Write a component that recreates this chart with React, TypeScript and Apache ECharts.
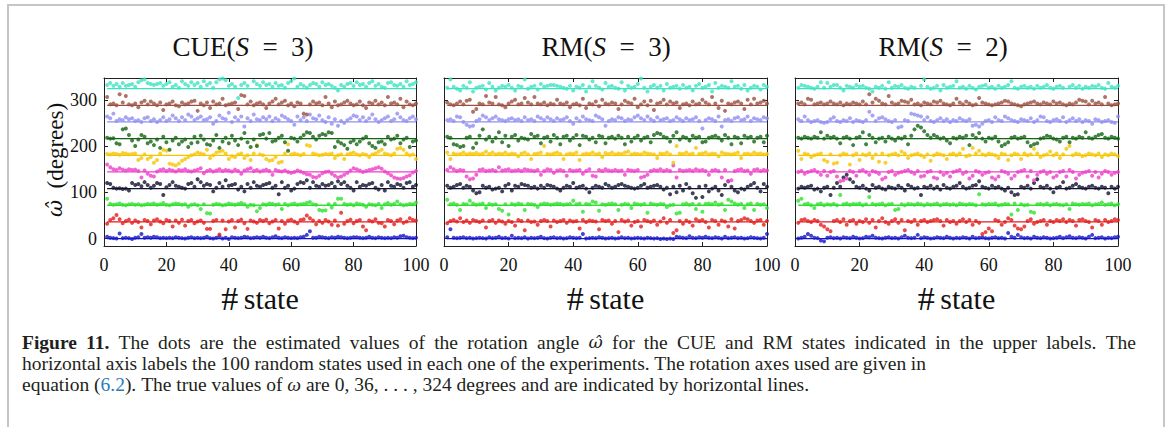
import React, { useEffect, useRef } from "react";
import * as echarts from "echarts";

// true rotation angles (degrees)
const TRUE_VALUES = [0, 36, 72, 108, 144, 180, 216, 252, 288, 324];
const Y_TICKS = [0, 100, 200, 300];
const PANEL_TITLES = ["CUE", "RM", "RM"];
const PANEL_S = [3, 3, 2];

// deviations (degrees) of the estimated angle from the true value, states 1..100
// Panel 1: CUE(S=3)
const CUE3_0 = [4,2,1,0,11,1,2,1,-1,2,3,10,2,3,2,4,3,1,2,1,2,1,3,2,1,0,2,3,1,2,1,2,4,1,0,2,5,0,2,-1,3,2,1,2,4,3,1,2,3,2,4,2,1,3,5,2,1,3,2,1,2,1,3,4,8,16,2,2,4,3,2,1,3,2,4,3,2,1,2,3,3,2,1,2,4,2,1,3,2,1,2,1,3,2,5,6,3,2,1,2];
const CUE3_36 = [-4,4,8,15,6,-3,2,5,-2,3,0,-12,4,2,-5,3,6,1,-3,4,2,-10,3,-2,5,-8,2,4,-3,1,3,-2,-15,-15,2,4,-27,3,-16,1,4,-12,2,5,-3,-15,3,1,-2,4,2,5,-3,1,4,-14,2,-4,3,5,1,-3,4,6,14,8,3,-5,2,-2,4,1,-6,3,-8,20,-4,2,5,-3,2,4,-10,-18,3,1,6,-2,-3,-10,4,2,-5,3,6,-2,1,8,4,3];
const CUE3_72 = [14,3,1,2,4,1,0,2,3,1,2,0,1,3,2,4,1,2,5,1,0,2,4,3,1,2,-3,1,2,0,-8,2,-17,-18,1,3,2,0,1,4,2,1,3,5,2,-3,1,0,-13,-6,2,1,4,3,1,2,-8,3,0,2,4,1,2,3,5,7,2,1,-10,-12,-11,2,-5,3,14,14,3,1,2,0,4,2,1,-3,2,1,0,3,-6,2,5,1,3,8,2,0,1,3,2,6];
const CUE3_108 = [12,10,2,0,1,-1,0,-4,12,8,10,5,14,8,2,6,12,10,-14,3,8,14,6,4,2,0,10,12,4,20,14,6,10,8,-6,2,12,4,18,6,8,10,-2,4,-6,10,2,14,6,4,8,10,12,2,6,-12,14,2,6,-4,0,10,14,12,18,2,14,6,4,10,6,8,12,4,16,10,14,6,2,-4,14,4,8,6,10,12,2,-2,8,-4,14,6,4,10,8,2,12,14,4,8];
const CUE3_144 = [16,10,6,4,8,5,3,6,4,5,2,-12,3,-4,-8,-10,1,4,6,2,5,3,1,4,3,6,2,1,3,5,8,-3,2,4,1,3,6,2,4,3,1,5,2,-4,3,6,8,2,4,1,3,5,2,-6,4,2,1,3,0,-2,0,3,1,-2,-5,-6,-11,-12,-8,-3,0,1,-4,-8,-12,-10,-6,-2,3,8,6,3,0,2,4,6,8,10,7,1,-3,-7,-12,-14,-15,-13,-10,-7,-1,2];
const CUE3_180 = [3,2,4,3,1,5,4,2,3,4,-10,-6,2,-8,-4,-16,-10,4,12,10,-18,-20,-22,-18,-12,-8,-4,0,2,6,4,2,12,-6,0,6,8,10,4,-8,-2,-4,2,4,-6,0,-10,4,22,2,0,-8,-12,-10,-4,-16,-14,4,24,2,4,2,0,3,22,20,4,2,0,1,3,2,4,-6,0,2,-8,2,4,6,2,0,3,1,-4,2,4,8,12,4,2,0,4,14,16,12,4,0,2,-8];
const CUE3_216 = [2,0,1,-10,-12,20,22,8,-4,-16,-2,8,4,-10,-6,-14,-2,-20,4,-8,-24,-4,2,-12,-6,-2,-18,-10,4,-8,6,-2,-12,-14,-4,8,-20,-6,2,-10,6,-4,-14,0,12,-8,-18,-2,-16,8,10,0,12,-6,-4,2,6,-8,-26,2,0,-6,2,8,14,12,4,-2,6,10,8,14,12,-18,-6,-10,-14,-22,-8,-4,-12,-6,0,4,-10,-16,-20,-8,-6,-12,4,-2,0,6,-10,-2,2,-18,-6,-4];
const CUE3_252 = [12,8,18,2,6,4,10,6,8,2,4,0,8,10,2,6,0,4,10,2,6,14,8,2,10,4,16,12,4,8,12,4,6,10,-4,2,14,8,6,20,0,10,4,12,-10,8,2,16,6,4,10,6,12,2,8,4,14,10,6,2,-6,12,4,10,2,16,8,6,14,4,0,10,-4,6,-8,2,-2,4,8,14,12,4,10,2,8,16,6,0,4,8,12,2,6,18,10,4,2,8,12,6];
const CUE3_288 = [18,2,4,0,24,6,20,2,0,4,-4,6,10,2,8,4,0,6,-10,2,4,8,0,-2,6,2,4,8,10,-12,4,0,6,-6,8,2,4,14,0,2,4,6,-8,22,20,2,8,0,4,6,2,-6,4,8,14,2,6,10,0,4,-2,6,4,-18,-20,2,8,4,6,0,18,4,-4,8,0,2,6,10,4,0,2,8,0,-6,6,4,10,2,6,0,18,4,6,2,14,-4,8,2,0,4];
const CUE3_324 = [8,12,6,10,4,12,6,8,10,4,14,18,20,12,10,8,10,12,6,10,14,4,8,2,16,10,6,14,8,12,4,16,8,12,2,14,20,22,18,6,10,4,-20,8,12,6,24,16,10,6,14,8,10,4,12,6,8,2,12,16,22,4,10,6,2,8,12,10,4,14,8,10,6,2,-4,8,4,10,12,6,14,8,10,4,12,16,6,10,4,2,12,14,8,6,10,4,16,8,10,14];

// Panel 2: RM(S=3)
const RM3_0 = [3,20,2,1,2,3,1,2,0,1,2,1,0,3,1,2,4,1,2,0,6,1,2,1,3,0,2,1,2,4,1,0,2,3,1,2,0,1,3,2,1,2,10,0,1,2,1,3,2,0,1,2,0,1,3,1,2,0,1,2,1,0,2,1,0,1,-1,0,-1,0,-1,4,3,2,1,5,2,1,3,2,4,2,1,3,2,0,4,1,2,3,1,2,0,1,3,2,1,0,2,10];
const RM3_36 = [-3,2,4,1,8,0,3,-2,4,2,0,3,-12,2,4,-2,3,1,-4,2,0,-8,4,2,-18,3,0,1,-6,2,4,2,-10,3,0,2,4,-2,3,1,2,-14,4,0,3,2,1,-16,4,2,3,-4,2,-22,4,1,3,-8,0,2,-10,4,2,0,3,-6,1,8,-2,4,-24,-18,2,-4,3,0,-8,6,2,4,0,-12,4,2,-6,3,1,-10,6,-14,2,4,8,6,2,-2,3,4,-6,2];
const RM3_72 = [12,2,4,1,-10,3,2,10,4,1,2,4,-6,3,1,2,-8,-12,2,-20,3,1,4,2,-10,3,2,1,-4,2,4,3,1,2,4,3,1,2,3,10,2,4,-14,3,2,8,6,-12,2,1,3,4,2,-10,1,3,2,-6,4,2,1,3,-16,4,2,1,3,2,-4,0,1,-18,-16,2,4,1,3,-8,2,-14,3,4,2,6,1,3,-10,12,8,4,1,3,-6,2,4,-10,3,1,2,-6];
const RM3_108 = [6,2,4,8,10,2,6,4,-4,-10,-8,6,2,4,-2,0,2,-6,6,10,-4,6,4,10,8,6,2,4,0,6,2,8,6,4,0,-4,2,6,4,12,2,4,6,0,-8,2,6,4,2,10,6,2,4,8,10,6,4,2,0,2,6,10,2,4,6,8,4,-2,2,-12,4,-8,6,-4,10,2,-10,-20,4,-18,6,-6,0,4,-4,-14,8,16,4,-4,-8,0,-2,4,8,12,2,-6,10,4];
const RM3_144 = [4,10,6,2,4,3,-10,-16,-14,-6,4,6,2,3,4,2,10,3,4,6,2,3,4,2,6,4,3,2,4,-6,2,6,4,-2,3,4,2,-8,4,2,3,4,-4,2,6,-8,-10,4,2,6,3,2,4,2,3,-6,4,3,2,4,-12,-10,-6,2,4,3,6,2,4,2,14,-12,4,2,3,4,2,6,3,4,2,-6,3,4,2,-12,4,-20,-18,2,4,6,2,3,-4,4,6,2,4,3];
const RM3_180 = [6,-8,4,2,3,6,2,4,3,5,2,4,8,3,6,2,4,3,6,2,4,3,-2,4,6,2,-8,3,4,6,20,3,2,4,6,3,-8,2,4,3,6,-10,2,4,3,6,2,4,-4,5,3,6,2,4,3,6,8,2,4,3,2,6,4,3,2,-6,4,3,6,2,-16,20,4,3,6,2,4,16,3,4,6,2,4,3,-2,6,4,3,2,4,6,-6,3,4,2,6,3,4,2,3];
const RM3_216 = [4,2,-12,-14,-18,-16,2,4,-20,-10,6,20,-2,4,-6,2,14,-8,6,-16,4,8,-4,2,0,-2,10,4,6,-10,2,4,-6,8,2,-12,4,6,-4,2,8,-14,6,4,-2,2,-8,6,4,-10,2,4,0,6,2,-12,4,-6,2,6,-4,2,4,-8,8,12,10,4,2,-6,6,14,-2,4,2,-4,6,2,4,-8,-6,2,4,6,2,-4,8,2,-12,4,2,-10,6,2,4,-6,2,4,-8,6];
const RM3_252 = [4,6,2,12,10,0,-6,-10,-8,2,6,14,10,4,8,12,6,4,2,6,8,4,6,2,10,4,6,2,12,8,4,10,6,2,8,4,6,10,2,-4,8,2,12,6,4,2,14,10,6,-8,2,6,4,10,8,2,6,4,10,14,8,4,12,6,2,10,4,6,8,2,4,10,6,2,8,4,6,10,2,-14,4,8,6,2,12,-10,4,6,2,8,10,4,6,12,2,8,6,4,10,8];
const RM3_288 = [6,2,0,4,8,2,10,12,-14,-8,4,2,20,6,4,18,2,0,-4,4,8,12,2,4,16,6,2,18,4,2,6,0,4,2,12,4,2,6,-4,2,4,0,14,-6,4,2,8,-2,12,4,2,6,4,-8,2,10,6,4,14,-4,2,8,0,10,-10,4,6,12,2,8,4,6,-6,2,4,0,8,2,4,12,6,2,18,4,-6,10,-12,4,2,6,8,4,-8,12,2,14,4,6,10,4];
const RM3_324 = [2,20,4,0,-4,6,2,14,-6,2,4,6,-2,12,4,-4,2,6,4,8,2,-4,6,4,20,0,4,6,-2,10,4,6,8,8,6,4,2,0,6,-4,4,2,8,-6,4,16,6,2,-2,12,4,6,2,0,14,-4,6,2,4,10,22,2,-6,4,8,2,6,-4,10,2,4,6,0,8,2,4,-4,6,10,2,4,8,-6,12,2,6,4,2,16,4,6,0,8,-4,2,6,4,-2,8,4];

// Panel 3: RM(S=2)
const RM2_0 = [0,2,4,10,6,2,1,-4,-6,2,3,1,2,0,3,2,1,4,2,0,1,4,3,6,2,1,0,2,3,1,2,0,3,6,2,1,2,8,1,3,2,0,1,3,2,1,4,2,0,2,1,3,2,0,4,1,2,3,1,0,2,3,1,2,0,12,4,2,8,3,1,2,0,4,2,1,3,2,0,1,2,4,1,3,5,2,1,3,2,0,4,8,1,2,3,0,2,1,3,4];
const RM2_36 = [-2,4,6,2,0,4,2,-6,-10,-16,-20,2,4,0,6,-6,2,4,-4,2,0,6,-2,4,-12,2,8,0,-4,2,6,-2,4,-18,2,0,4,-6,2,4,0,2,4,6,2,-8,4,0,2,-4,2,6,0,4,-6,2,-2,-26,-22,-14,-20,4,2,-6,0,8,4,-8,-14,-16,-10,2,6,-4,0,2,4,-6,2,0,4,2,6,0,4,2,-8,4,6,2,0,-12,4,2,-6,4,0,2,6,4];
const RM2_72 = [10,14,2,4,0,-6,2,4,0,2,1,3,0,22,2,4,1,3,2,4,0,2,18,3,1,2,4,0,2,3,-10,-8,2,0,3,2,1,4,2,0,3,1,2,4,0,2,3,1,2,0,4,2,1,3,2,0,24,2,1,3,2,4,0,1,3,2,-20,4,-10,2,0,1,-14,-16,2,3,1,4,0,2,3,1,0,2,-8,4,2,1,3,2,4,0,2,3,6,1,2,4,0,2];
const RM2_108 = [0,4,2,4,6,-2,0,-6,2,4,-14,2,12,4,24,30,20,14,4,2,6,0,-4,8,2,4,0,-2,4,2,0,6,2,-4,8,4,0,2,-14,4,2,6,0,4,-2,8,2,0,4,6,12,4,0,2,6,8,16,4,2,0,6,2,4,0,-4,2,-8,-14,-12,4,2,6,0,12,20,4,2,6,0,-8,2,4,14,0,2,6,10,4,2,0,4,6,2,0,4,2,-10,4,0,4];
const RM2_144 = [0,2,-4,0,2,4,0,-6,2,-8,0,2,-10,-20,-18,-14,2,0,-8,2,4,0,-6,2,0,-4,-16,-12,0,2,-6,-2,0,2,4,0,-4,2,-10,-8,0,2,-12,-14,0,-6,-2,-10,0,2,4,-4,0,-14,-8,2,0,-6,-2,0,-12,-16,-10,2,0,-4,-14,-8,0,2,4,-10,2,-18,-6,0,2,-4,0,-12,-8,0,2,-10,4,0,-14,-6,-2,0,2,-8,0,-12,-4,2,0,-6,-2,0];
const RM2_180 = [10,-8,4,2,-4,0,2,4,-10,-14,2,-18,-16,0,4,2,-20,0,4,-10,2,0,4,-6,2,-14,4,-16,0,2,4,0,8,4,-6,0,2,4,0,-4,2,-12,0,4,2,0,-8,2,4,0,4,14,-2,0,16,4,10,2,0,4,2,0,-6,4,2,-10,0,4,2,-8,4,0,2,14,4,-4,0,2,8,0,4,-6,2,14,20,0,4,2,-2,0,4,2,0,4,-4,2,0,4,2,-2];
const RM2_216 = [2,0,4,2,0,4,2,14,0,6,2,4,0,-10,2,4,0,-14,2,4,14,-12,8,2,-8,0,2,-6,4,0,-4,2,0,4,-12,6,20,28,24,16,8,2,8,4,0,2,-4,-10,2,0,4,2,6,-14,8,2,12,0,-6,2,0,4,-6,-16,-12,-8,2,4,0,2,4,-8,-16,-12,-10,0,2,6,4,0,-2,-6,2,4,-8,2,0,4,2,14,2,0,4,8,10,2,0,4,2,0];
const RM2_252 = [6,2,12,4,0,2,4,0,-2,0,6,10,2,0,4,2,8,0,4,2,0,4,22,14,2,8,10,6,2,0,4,-12,-10,4,2,18,16,14,12,4,10,2,0,4,8,2,6,0,4,2,8,4,2,6,-8,-6,-10,-4,2,4,0,10,4,2,12,8,4,2,0,6,4,2,8,0,4,12,10,2,0,4,6,2,10,0,4,8,2,6,0,4,2,-4,6,4,0,2,4,0,-2,12];
const RM2_288 = [4,6,2,14,12,2,4,6,2,4,8,4,2,6,0,4,2,6,4,2,8,2,24,6,14,10,4,2,20,6,2,4,10,8,6,12,2,4,0,6,4,2,8,6,10,4,2,0,4,14,6,2,8,4,0,2,16,6,4,2,0,2,4,6,10,8,4,2,0,-2,2,4,6,8,4,2,6,4,2,8,4,6,2,0,4,2,6,12,10,8,2,10,4,6,2,18,4,0,2,4];
const RM2_324 = [2,8,6,4,2,0,4,14,2,12,4,8,8,2,-4,6,4,2,8,4,6,2,0,-6,4,2,6,0,14,2,6,4,8,2,0,4,2,30,6,20,4,0,2,6,-4,8,2,4,6,16,2,4,0,6,2,-2,4,6,8,2,4,0,6,2,4,8,16,2,0,4,6,2,4,0,6,2,4,8,2,0,4,6,2,30,4,8,2,6,0,4,2,6,4,8,2,0,12,4,2,6];

const PANELS = [
  [CUE3_0, CUE3_36, CUE3_72, CUE3_108, CUE3_144, CUE3_180, CUE3_216, CUE3_252, CUE3_288, CUE3_324],
  [RM3_0, RM3_36, RM3_72, RM3_108, RM3_144, RM3_180, RM3_216, RM3_252, RM3_288, RM3_324],
  [RM2_0, RM2_36, RM2_72, RM2_108, RM2_144, RM2_180, RM2_216, RM2_252, RM2_288, RM2_324],
];

const COLORS = ["#1414c8", "#e41c1c", "#30e030", "#121230", "#ee3ec8", "#f5c400", "#136313", "#8f8ff0", "#9a4f40", "#3ce3c0"];

const CAPTION = [
  "{b|Figure} {b|11.} The dots are the estimated values of the rotation angle {w|ω̂} for the CUE and RM states indicated in the upper labels. The",
  "horizontal axis labels the 100 random states used in each one of the experiments. The rotation axes used are given in",
  "equation ({l|6.2}). The true values of {i|ω} are 0, 36, . . . , 324 degrees and are indicated by horizontal lines.",
];
// right edge for justified lines (null = natural spacing)
const CAPTION_RIGHT: (number | null)[] = [1136, 926, null];

const GRIDS = [
  { left: 104, width: 312, titleX: 243 },
  { left: 444, width: 323, titleX: 606 },
  { left: 795, width: 323, titleX: 943 },
];
const Y_MIN = -16;
const Y_MAX = 347;
const FONT = "Liberation Serif";
const CAP_SIZE = 19.5;

function capFont(s: string) {
  const fam = s === "w" ? "DejaVu Serif" : FONT;
  const weight = s === "b" ? "bold" : "normal";
  const style = s === "i" || s === "w" ? "italic" : "normal";
  const size = s === "w" ? CAP_SIZE - 2 : CAP_SIZE;
  return { fam, weight, style, size };
}

function parseWord(w: string) {
  const parts = w.split(/(\{\w\|[^}]*\})/).filter((p) => p.length > 0);
  return parts.map((p) => {
    const m = p.match(/^\{(\w)\|([^}]*)\}$/);
    return m ? { s: m[1], t: m[2] } : { s: "n", t: p };
  });
}

export default function App() {
  const ref = useRef<HTMLDivElement>(null);
  useEffect(() => {
    if (!ref.current) return;
    const chart = echarts.init(ref.current, null, { renderer: "svg" });
    const grid: any[] = [];
    const xAxis: any[] = [];
    const yAxis: any[] = [];
    const series: any[] = [];
    const graphic: any[] = [];

    graphic.push({
      type: "rect",
      z: -10,
      shape: { x: 8, y: 5, width: 1156, height: 440 },
      style: { fill: "#fff", stroke: "#c6c6c6", lineWidth: 2 },
    });

    GRIDS.forEach((g, p) => {
      grid.push({ left: g.left, width: g.width, top: 78, height: 168 });
      const axisLine = { show: true, onZero: false, lineStyle: { color: "#222", width: 1 } };
      xAxis.push({
        type: "value", gridIndex: p, position: "bottom", min: 0, max: 100, interval: 20,
        axisLine, splitLine: { show: false },
        axisTick: { inside: true, length: 4, lineStyle: { color: "#222" } },
        axisLabel: { fontFamily: FONT, fontSize: 18, color: "#111", margin: 10 },
        name: "{h|#}{g| }{s|state}", nameLocation: "middle", nameGap: 35,
        nameTextStyle: {
          rich: {
            h: { fontFamily: FONT, fontSize: 34, color: "#111" },
            g: { fontFamily: FONT, fontSize: 22, color: "#111" },
            s: { fontFamily: FONT, fontSize: 30, color: "#111" },
          },
        },
      });
      xAxis.push({
        type: "value", gridIndex: p, position: "top", min: 0, max: 100, interval: 20,
        axisLine, splitLine: { show: false },
        axisTick: { inside: true, length: 4, lineStyle: { color: "#222" } },
        axisLabel: { show: false },
      });
      yAxis.push({
        type: "value", gridIndex: p, position: "left", min: Y_MIN, max: Y_MAX,
        axisLine, splitLine: { show: false },
        axisTick: { inside: true, length: 4, customValues: Y_TICKS, lineStyle: { color: "#222" } },
        axisLabel: p === 0
          ? { show: true, customValues: Y_TICKS, fontFamily: FONT, fontSize: 18, color: "#111", margin: 7 }
          : { show: false },
      });
      yAxis.push({
        type: "value", gridIndex: p, position: "right", min: Y_MIN, max: Y_MAX,
        axisLine, splitLine: { show: false },
        axisTick: { inside: true, length: 4, customValues: Y_TICKS, lineStyle: { color: "#222" } },
        axisLabel: { show: false },
      });

      PANELS[p].forEach((devs, k) => {
        const tv = TRUE_VALUES[k];
        series.push({
          type: "line", xAxisIndex: p * 2, yAxisIndex: p * 2, silent: true,
          data: [[1, tv], [100, tv]], symbol: "none",
          lineStyle: { color: COLORS[k], width: 1.3 }, z: 2,
        });
        series.push({
          type: "scatter", xAxisIndex: p * 2, yAxisIndex: p * 2,
          data: devs.map((d, i) => [i + 1, tv + d]),
          symbolSize: 4, itemStyle: { color: COLORS[k] }, z: 3,
        });
      });

      graphic.push({
        type: "text", x: g.titleX, y: 47,
        style: {
          text: `{r|${PANEL_TITLES[p]}(}{i|S}{r|  =  ${PANEL_S[p]})}`,
          align: "center", verticalAlign: "middle",
          rich: {
            r: { fontFamily: FONT, fontSize: 27, fill: "#111" },
            i: { fontFamily: FONT, fontSize: 27, fontStyle: "italic", fill: "#111" },
          },
        },
      });
    });

    // y-axis title of the first panel
    graphic.push({
      type: "text", x: 55, y: 160, rotation: Math.PI / 2,
      style: {
        text: "{w|ω̂}{r|  (degrees)}",
        align: "center", verticalAlign: "middle",
        rich: {
          w: { fontFamily: "DejaVu Serif", fontSize: 21, fontStyle: "italic", fill: "#111" },
          r: { fontFamily: FONT, fontSize: 23, fill: "#111" },
        },
      },
    });

    // caption, word by word (first two lines justified)
    const ctx = document.createElement("canvas").getContext("2d")!;
    const capRich: any = {};
    ["n", "b", "i", "w", "l"].forEach((s) => {
      const f = capFont(s);
      capRich[s] = {
        fontFamily: f.fam, fontSize: f.size, fontWeight: f.weight, fontStyle: f.style,
        fill: s === "l" ? "#2a7bbd" : "#231f20",
      };
    });
    const measure = (s: string, t: string) => {
      const f = capFont(s);
      ctx.font = `${f.style} ${f.weight} ${f.size}px "${f.fam}"`;
      return ctx.measureText(t).width;
    };
    const spaceW = measure("n", " ");
    CAPTION.forEach((line, li) => {
      const words = line.split(" ").map(parseWord);
      const widths = words.map((runs) => runs.reduce((acc, r) => acc + measure(r.s, r.t), 0));
      const total = widths.reduce((a, b) => a + b, 0);
      const x0 = 22;
      const right = CAPTION_RIGHT[li];
      const gap = right == null ? spaceW : (right - x0 - total) / (words.length - 1);
      let x = x0;
      words.forEach((runs, wi) => {
        graphic.push({
          type: "text", x, y: 342 + li * 21,
          style: {
            text: runs.map((r) => `{${r.s}|${r.t}}`).join(""),
            align: "left", verticalAlign: "middle", rich: capRich,
          },
        });
        x += widths[wi] + gap;
      });
    });

    chart.setOption({
      animation: false,
      grid, xAxis, yAxis, series, graphic,
    });
    return () => chart.dispose();
  }, []);
  return <div ref={ref} style={{ position: "absolute", left: 0, top: 0, width: 1168, height: 427 }} />;
}
